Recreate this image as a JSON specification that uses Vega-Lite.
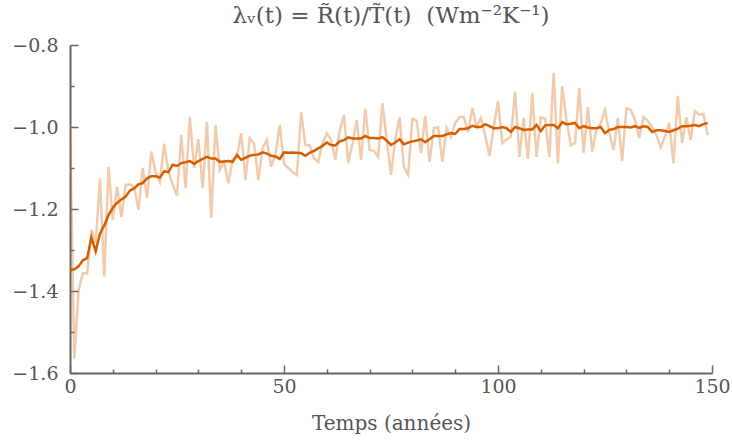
{
  "$schema": "https://vega.github.io/schema/vega-lite/v6.json",
  "width": 642,
  "height": 328,
  "autosize": "none",
  "padding": {"left": 70, "top": 45, "right": 20, "bottom": 68},
  "background": "white",
  "config": {
    "view": {"stroke": null},
    "font": "DejaVu Serif"
  },
  "title": {
    "text": "λᵥ(t) = R̃(t)/T̃(t)\u00a0\u00a0(Wm⁻²K⁻¹)",
    "font": "DejaVu Serif",
    "fontSize": 23,
    "fontWeight": "normal",
    "color": "#555555",
    "anchor": "middle",
    "offset": 8
  },
  "data": {
    "values": [
      {"t":0,"raw":-1.0,"smooth":-1.349},{"t":1,"raw":-1.565,"smooth":-1.347},{"t":2,"raw":-1.398,"smooth":-1.34},{"t":3,"raw":-1.357,"smooth":-1.325},{"t":4,"raw":-1.357,"smooth":-1.32},
      {"t":5,"raw":-1.251,"smooth":-1.27},{"t":6,"raw":-1.283,"smooth":-1.303},{"t":7,"raw":-1.125,"smooth":-1.26},{"t":8,"raw":-1.365,"smooth":-1.24},{"t":9,"raw":-1.097,"smooth":-1.215},
      {"t":10,"raw":-1.227,"smooth":-1.197},{"t":11,"raw":-1.146,"smooth":-1.185},{"t":12,"raw":-1.22,"smooth":-1.177},{"t":13,"raw":-1.141,"smooth":-1.17},{"t":14,"raw":-1.14,"smooth":-1.155},
      {"t":15,"raw":-1.147,"smooth":-1.15},{"t":16,"raw":-1.202,"smooth":-1.14},{"t":17,"raw":-1.1,"smooth":-1.137},{"t":18,"raw":-1.173,"smooth":-1.125},{"t":19,"raw":-1.06,"smooth":-1.12},
      {"t":20,"raw":-1.11,"smooth":-1.12},{"t":21,"raw":-1.134,"smooth":-1.123},{"t":22,"raw":-1.041,"smooth":-1.108},{"t":23,"raw":-1.11,"smooth":-1.11},{"t":24,"raw":-1.14,"smooth":-1.092},
      {"t":25,"raw":-1.168,"smooth":-1.095},{"t":26,"raw":-1.02,"smooth":-1.088},{"t":27,"raw":-1.149,"smooth":-1.086},{"t":28,"raw":-0.976,"smooth":-1.083},{"t":29,"raw":-1.1,"smooth":-1.09},
      {"t":30,"raw":-1.03,"smooth":-1.083},{"t":31,"raw":-1.149,"smooth":-1.078},{"t":32,"raw":-0.988,"smooth":-1.073},{"t":33,"raw":-1.222,"smooth":-1.077},{"t":34,"raw":-0.995,"smooth":-1.077},
      {"t":35,"raw":-1.105,"smooth":-1.085},{"t":36,"raw":-1.085,"smooth":-1.084},{"t":37,"raw":-1.137,"smooth":-1.083},{"t":38,"raw":-1.08,"smooth":-1.085},{"t":39,"raw":-1.073,"smooth":-1.068},
      {"t":40,"raw":-1.015,"smooth":-1.08},{"t":41,"raw":-1.129,"smooth":-1.075},{"t":42,"raw":-1.027,"smooth":-1.07},{"t":43,"raw":-1.04,"smooth":-1.068},{"t":44,"raw":-1.129,"smooth":-1.067},
      {"t":45,"raw":-1.051,"smooth":-1.062},{"t":46,"raw":-1.032,"smooth":-1.065},{"t":47,"raw":-1.097,"smooth":-1.07},{"t":48,"raw":-1.068,"smooth":-1.072},{"t":49,"raw":-0.995,"smooth":-1.078},
      {"t":50,"raw":-1.09,"smooth":-1.062},{"t":51,"raw":-1.1,"smooth":-1.063},{"t":52,"raw":-1.11,"smooth":-1.062},{"t":53,"raw":-1.117,"smooth":-1.063},{"t":54,"raw":-0.964,"smooth":-1.064},
      {"t":55,"raw":-1.044,"smooth":-1.07},{"t":56,"raw":-1.045,"smooth":-1.063},{"t":57,"raw":-1.076,"smooth":-1.058},{"t":58,"raw":-1.085,"smooth":-1.052},{"t":59,"raw":-1.04,"smooth":-1.046},
      {"t":60,"raw":-1.015,"smooth":-1.038},{"t":61,"raw":-1.032,"smooth":-1.044},{"t":62,"raw":-1.08,"smooth":-1.045},{"t":63,"raw":-1.01,"smooth":-1.035},{"t":64,"raw":-0.971,"smooth":-1.032},
      {"t":65,"raw":-1.088,"smooth":-1.025},{"t":66,"raw":-1.04,"smooth":-1.028},{"t":67,"raw":-0.983,"smooth":-1.028},{"t":68,"raw":-1.08,"smooth":-1.028},{"t":69,"raw":-0.956,"smooth":-1.022},
      {"t":70,"raw":-1.056,"smooth":-1.027},{"t":71,"raw":-1.058,"smooth":-1.027},{"t":72,"raw":-1.073,"smooth":-1.028},{"t":73,"raw":-0.942,"smooth":-1.025},{"t":74,"raw":-1.032,"smooth":-1.033},
      {"t":75,"raw":-1.117,"smooth":-1.044},{"t":76,"raw":-1.03,"smooth":-1.038},{"t":77,"raw":-0.976,"smooth":-1.03},{"t":78,"raw":-1.097,"smooth":-1.042},{"t":79,"raw":-1.117,"smooth":-1.038},
      {"t":80,"raw":-0.98,"smooth":-1.035},{"t":81,"raw":-0.985,"smooth":-1.033},{"t":82,"raw":-1.063,"smooth":-1.03},{"t":83,"raw":-0.973,"smooth":-1.037},{"t":84,"raw":-1.085,"smooth":-1.03},
      {"t":85,"raw":-1.003,"smooth":-1.022},{"t":86,"raw":-1.0,"smooth":-1.022},{"t":87,"raw":-1.085,"smooth":-1.022},{"t":88,"raw":-1.003,"smooth":-1.018},{"t":89,"raw":-1.024,"smooth":-1.015},
      {"t":90,"raw":-0.99,"smooth":-1.017},{"t":91,"raw":-0.976,"smooth":-1.005},{"t":92,"raw":-0.975,"smooth":-1.005},{"t":93,"raw":-1.012,"smooth":-1.003},{"t":94,"raw":-0.954,"smooth":-0.997},
      {"t":95,"raw":-1.0,"smooth":-1.0},{"t":96,"raw":-0.978,"smooth":-1.0},{"t":97,"raw":-1.02,"smooth":-0.993},{"t":98,"raw":-1.071,"smooth":-0.998},{"t":99,"raw":-1.0,"smooth":-1.003},
      {"t":100,"raw":-0.937,"smooth":-1.003},{"t":101,"raw":-1.039,"smooth":-1.0},{"t":102,"raw":-1.03,"smooth":-1.003},{"t":103,"raw":-1.024,"smooth":-1.012},{"t":104,"raw":-0.914,"smooth":-1.0},
      {"t":105,"raw":-1.073,"smooth":-1.003},{"t":106,"raw":-0.978,"smooth":-1.007},{"t":107,"raw":-1.078,"smooth":-1.006},{"t":108,"raw":-0.917,"smooth":-1.006},{"t":109,"raw":-1.073,"smooth":-0.995},
      {"t":110,"raw":-0.976,"smooth":-1.01},{"t":111,"raw":-0.98,"smooth":-0.996},{"t":112,"raw":-1.073,"smooth":-0.995},{"t":113,"raw":-0.868,"smooth":-0.995},{"t":114,"raw":-1.088,"smooth":-1.003},
      {"t":115,"raw":-0.9,"smooth":-0.988},{"t":116,"raw":-0.983,"smooth":-0.993},{"t":117,"raw":-1.044,"smooth":-0.992},{"t":118,"raw":-1.039,"smooth":-0.99},{"t":119,"raw":-0.905,"smooth":-1.003},
      {"t":120,"raw":-1.063,"smooth":-0.998},{"t":121,"raw":-0.951,"smooth":-1.001},{"t":122,"raw":-1.06,"smooth":-1.003},{"t":123,"raw":-1.007,"smooth":-1.003},{"t":124,"raw":-0.99,"smooth":-1.0},
      {"t":125,"raw":-0.959,"smooth":-1.015},{"t":126,"raw":-1.015,"smooth":-1.007},{"t":127,"raw":-1.056,"smooth":-1.005},{"t":128,"raw":-0.978,"smooth":-1.0},{"t":129,"raw":-1.083,"smooth":-1.0},
      {"t":130,"raw":-0.954,"smooth":-1.0},{"t":131,"raw":-0.958,"smooth":-1.001},{"t":132,"raw":-0.983,"smooth":-0.998},{"t":133,"raw":-1.027,"smooth":-1.002},{"t":134,"raw":-0.976,"smooth":-0.998},
      {"t":135,"raw":-0.985,"smooth":-1.0},{"t":136,"raw":-1.0,"smooth":-1.012},{"t":137,"raw":-1.02,"smooth":-1.008},{"t":138,"raw":-1.049,"smooth":-1.008},{"t":139,"raw":-1.024,"smooth":-1.01},
      {"t":140,"raw":-0.99,"smooth":-1.012},{"t":141,"raw":-1.088,"smooth":-1.008},{"t":142,"raw":-0.924,"smooth":-1.004},{"t":143,"raw":-1.039,"smooth":-0.998},{"t":144,"raw":-0.976,"smooth":-0.998},
      {"t":145,"raw":-1.032,"smooth":-0.997},{"t":146,"raw":-0.961,"smooth":-0.995},{"t":147,"raw":-0.97,"smooth":-0.998},{"t":148,"raw":-0.968,"smooth":-0.993},{"t":149,"raw":-1.02,"smooth":-0.99}
    ]
  },
  "encoding": {
    "x": {
      "field": "t", "type": "quantitative",
      "scale": {"domain": [0, 150], "nice": false, "zero": false},
      "axis": {
        "title": "Temps (années)",
        "titleFont": "DejaVu Serif", "titleFontSize": 20, "titleFontWeight": "normal", "titleColor": "#555555", "titlePadding": 17,
        "values": [0,10,20,30,40,50,60,70,80,90,100,110,120,130,140,150],
        "labelExpr": "datum.value % 50 == 0 ? datum.label : ''",
        "labelFont": "DejaVu Serif", "labelFontSize": 19, "labelColor": "#555555", "labelPadding": 12, "labelFlush": false,
        "tickSize": {"condition": {"test": "datum.value % 50 == 0", "value": -8}, "value": -4},
        "tickColor": "#666666", "tickWidth": 1.5,
        "domainColor": "#666666", "domainWidth": 2,
        "grid": false
      }
    }
  },
  "layer": [
    {
      "mark": {"type": "line", "color": "#d95f02", "opacity": 0.33, "strokeWidth": 2.5, "clip": true},
      "encoding": {
        "y": {
          "field": "raw", "type": "quantitative",
          "scale": {"domain": [-1.6, -0.8], "nice": false, "zero": false},
          "axis": {
            "title": null,
            "values": [-1.6,-1.5,-1.4,-1.3,-1.2,-1.1,-1.0,-0.9,-0.8],
            "format": ".1f",
            "labelExpr": "round(datum.value*10) % 2 == 0 ? datum.label : ''",
            "labelFont": "DejaVu Serif", "labelFontSize": 19, "labelColor": "#555555", "labelPadding": 20, "labelFlush": false,
            "tickSize": {"condition": {"test": "round(datum.value*10) % 2 == 0", "value": -8}, "value": -4},
            "tickColor": "#666666", "tickWidth": 1.5,
            "domainColor": "#666666", "domainWidth": 2,
            "grid": false
          }
        }
      }
    },
    {
      "mark": {"type": "line", "color": "#d55e00", "strokeWidth": 2.5, "clip": true},
      "encoding": {
        "y": {"field": "smooth", "type": "quantitative"}
      }
    }
  ]
}
